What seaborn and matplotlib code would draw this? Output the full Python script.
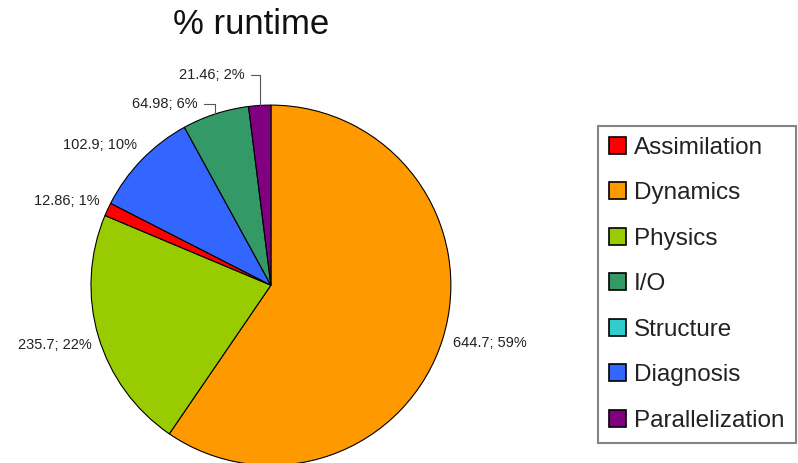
import numpy as np
import matplotlib
matplotlib.use("Agg")
import matplotlib.pyplot as plt
import matplotlib.patches as mpatches
import seaborn as sns

sns.set_theme(style="white")
plt.rcParams["font.family"] = ["Liberation Sans", "DejaVu Sans"]

# legend order
categories = ["Assimilation", "Dynamics", "Physics", "I/O", "Structure",
              "Diagnosis", "Parallelization"]
colors = ["#FF0000", "#FF9900", "#99CC00", "#339966", "#33CCCC",
          "#3366FF", "#800080"]

# slices, clockwise from 12 o'clock
slice_names = ["Dynamics", "Physics", "Assimilation", "Diagnosis", "I/O",
               "Parallelization"]
slice_values = [644.7, 235.7, 12.86, 102.9, 64.98, 21.46]
slice_pcts = [59, 22, 1, 10, 6, 2]

color_of = dict(zip(categories, colors))

fig = plt.figure(figsize=(7.98, 4.63), dpi=100)
ax = fig.add_axes([0.114, -0.005, 0.451, 0.778])

wedges, _ = ax.pie(slice_values, colors=[color_of[n] for n in slice_names],
                   startangle=90, counterclock=False,
                   wedgeprops=dict(edgecolor="black", linewidth=0.8))
ax.set_xlim(-1, 1)
ax.set_ylim(-1, 1)
ax.set_aspect("auto")

# label anchors (radius units) and alignment
label_pos = [(1.01, -0.32, "left"), (-0.994, -0.33, "right"),
             (-0.95, 0.467, "right"), (-0.744, 0.778, "right"),
             (-0.405, 1.006, "right"), (-0.144, 1.167, "right")]
leader = {"I/O", "Parallelization"}

for w, name, v, p, (tx, ty, ha) in zip(wedges, slice_names, slice_values,
                                       slice_pcts, label_pos):
    mid = np.deg2rad((w.theta1 + w.theta2) / 2)
    ex, ey = np.cos(mid), np.sin(mid)
    txt = f"{v:g}; {p}%"
    if name in leader:
        ax.annotate(txt, xy=(ex, ey), xytext=(tx, ty), ha=ha, va="center",
                    fontsize=10.5, color="#222222", annotation_clip=False,
                    arrowprops=dict(arrowstyle="-", color="#555555", lw=0.8,
                                    shrinkA=2, shrinkB=0,
                                    connectionstyle="angle,angleA=0,angleB=90,rad=0"))
    else:
        ax.text(tx, ty, txt, ha=ha, va="center", fontsize=10.5,
                color="#222222", clip_on=False)

fig.text(0.315, 0.948, "% runtime", ha="center", va="center", fontsize=25,
         color="#111111")

handles = [mpatches.Patch(facecolor=c, edgecolor="black", linewidth=1.2)
           for c in colors]
leg = fig.legend(handles, categories, loc="upper right",
                 bbox_to_anchor=(0.997, 0.728), fontsize=17.5,
                 handlelength=0.7, handleheight=0.7, handletextpad=0.35,
                 labelspacing=0.965, borderpad=0.45, fancybox=False,
                 frameon=True, borderaxespad=0)
leg.get_frame().set_edgecolor("#666666")
leg.get_frame().set_linewidth(1.5)
for t in leg.get_texts():
    t.set_color("#222222")

fig.savefig("out.png", dpi=100)
